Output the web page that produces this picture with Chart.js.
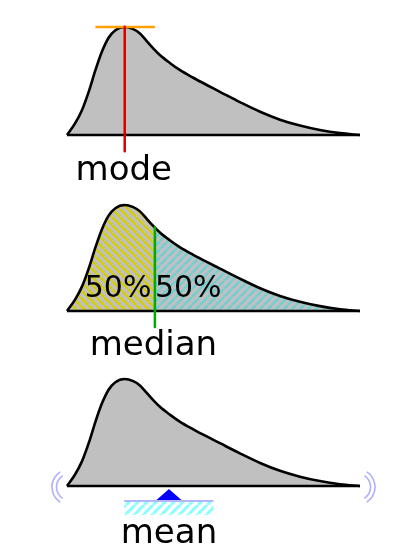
<!DOCTYPE html>
<html>
<head>
<meta charset="utf-8">
<script src="https://cdn.jsdelivr.net/npm/chart.js@4.4.1/dist/chart.umd.min.js"></script>
<style>
  body { margin: 0; background: #fff; }
  .panel { position: absolute; left: 0; width: 400px; }
</style>
</head>
<body>
<div class="panel" style="top:0;height:185px"><canvas id="modeChart"></canvas></div>
<div class="panel" style="top:185px;height:185px"><canvas id="medianChart"></canvas></div>
<div class="panel" style="top:370px;height:187px"><canvas id="meanChart"></canvas></div>
<script>
// skewed density curve (peak = 1)
const xs = [0, 0.28, 0.51, 0.74, 0.97, 1.19, 1.42, 1.65, 1.97, 2.26, 2.49, 2.72, 2.95, 3.17, 3.52, 3.86, 4.31, 4.77, 5.22, 5.9, 6.59, 7.27, 7.95, 8.63, 9.32, 10];
const density = [0, 0.11, 0.23, 0.40, 0.60, 0.77, 0.90, 0.97, 1.0, 0.98, 0.94, 0.87, 0.80, 0.74, 0.665, 0.60, 0.53, 0.463, 0.40, 0.305, 0.215, 0.142, 0.087, 0.046, 0.017, 0];

const modeX = 1.97;
const medianX = 3.0;
const medianDensity = 0.79;
const meanX = 3.48;

const names = ['mode', 'median', 'mean'];
const shares = ['50%', '50%'];

const FONT = '"DejaVu Sans", "Liberation Sans", sans-serif';

const points = xs.map((x, i) => ({ x: x, y: density[i] }));
const leftPart = points.filter(p => p.x < medianX).concat([{ x: medianX, y: medianDensity }]);
const rightPart = [{ x: medianX, y: medianDensity }].concat(points.filter(p => p.x > medianX));
const baseline = [{ x: xs[0], y: 0 }, { x: xs[xs.length - 1], y: 0 }];

function hatch(ctx, bg, fg, dir, size, width) {
    const c = document.createElement('canvas');
    c.width = size;
    c.height = size;
    const g = c.getContext('2d');
    if (bg) {
        g.fillStyle = bg;
        g.fillRect(0, 0, size, size);
    }
    g.strokeStyle = fg;
    g.lineWidth = width;
    g.beginPath();
    for (let k = -1; k <= 1; k++) {
        if (dir === '\\') {
            g.moveTo(k * size, 0);
            g.lineTo(k * size + size, size);
        } else {
            g.moveTo(k * size, size);
            g.lineTo(k * size + size, 0);
        }
    }
    g.stroke();
    return ctx.createPattern(c, 'repeat');
}

function baseOptions(pad) {
    return {
        responsive: true,
        maintainAspectRatio: false,
        animation: false,
        events: [],
        layout: { padding: pad },
        plugins: { legend: { display: false }, tooltip: { enabled: false } },
        scales: {
            x: { type: 'linear', display: false, min: 0, max: 10 },
            y: { display: false, min: 0, max: 1 }
        },
        elements: {
            point: { radius: 0 },
            line: { cubicInterpolationMode: 'monotone', borderJoinStyle: 'round', borderCapStyle: 'butt' }
        }
    };
}

function straight(data, color, width) {
    return { data: data, borderColor: color, borderWidth: width, fill: false, tension: 0,
             cubicInterpolationMode: 'default', clip: false };
}

function label(text, align, dx, dy, size) {
    return {
        id: 'label_' + text + dx.offset,
        afterDraw(chart) {
            const ctx = chart.ctx;
            const x = chart.scales.x;
            ctx.save();
            ctx.font = size + 'px ' + FONT;
            ctx.fillStyle = '#000';
            ctx.textAlign = align;
            ctx.textBaseline = 'alphabetic';
            ctx.fillText(text, x.getPixelForValue(dx.value) + dx.offset, chart.chartArea.bottom + dy);
            ctx.restore();
        }
    };
}

// ---- mode ----
new Chart(document.getElementById('modeChart'), {
    type: 'line',
    data: {
        datasets: [
            straight([{ x: modeX, y: 1 }, { x: modeX, y: -0.15 }], '#d40000', 2.5),
            straight([{ x: modeX - 1, y: 1 }, { x: modeX + 1.03, y: 1 }], '#ff9f00', 2.5),
            straight(baseline, '#000', 2.6),
            { data: points, borderColor: '#000', borderWidth: 2.6, fill: 'origin', backgroundColor: '#c0c0c0', clip: false }
        ]
    },
    options: baseOptions({ left: 67, right: 40, top: 27, bottom: 50 }),
    plugins: [label(names[0], 'center', { value: modeX, offset: -1 }, 45, 34)]
});

// ---- median ----
const medCtx = document.getElementById('medianChart').getContext('2d');
new Chart(medCtx, {
    type: 'line',
    data: {
        datasets: [
            straight([{ x: medianX, y: medianDensity }, { x: medianX, y: -0.15 }], '#00aa00', 2.5),
            { data: points, borderColor: '#000', borderWidth: 2.6, fill: false, clip: false },
            straight(baseline, '#000', 2.6),
            { data: leftPart, borderWidth: 0, borderColor: 'rgba(0,0,0,0)', fill: 'origin',
              backgroundColor: hatch(medCtx, '#c0c0c0', '#d6ce00', '\\', 8, 2.3) },
            { data: rightPart, borderWidth: 0, borderColor: 'rgba(0,0,0,0)', fill: 'origin',
              backgroundColor: hatch(medCtx, '#c0c0c0', '#6ed0d4', '/', 8, 2.3) }
        ]
    },
    options: baseOptions({ left: 67, right: 40, top: 20, bottom: 59 }),
    plugins: [
        label(shares[0], 'right', { value: medianX, offset: -3.5 }, -14, 30),
        label(shares[1], 'left', { value: medianX, offset: 0 }, -14, 30),
        label(names[1], 'center', { value: medianX, offset: -1.5 }, 44, 34)
    ]
});

// ---- mean ----
const meanCtx = document.getElementById('meanChart').getContext('2d');
const groundHatch = hatch(meanCtx, '#ffffff', '#88ffff', '/', 9, 3);
const balance = {
    id: 'balance',
    afterDatasetsDraw(chart) {
        const ctx = chart.ctx;
        const x = chart.scales.x;
        const y0 = chart.chartArea.bottom;
        const cx = x.getPixelForValue(meanX);
        const gl = x.getPixelForValue(meanX - 1.53);
        const gr = x.getPixelForValue(meanX + 1.52);
        ctx.save();
        // support hatch
        ctx.fillStyle = groundHatch;
        ctx.fillRect(gl, y0 + 16, gr - gl, 13);
        // support line
        ctx.strokeStyle = '#b4b4ff';
        ctx.lineWidth = 2;
        ctx.beginPath();
        ctx.moveTo(gl, y0 + 15);
        ctx.lineTo(gr, y0 + 15);
        ctx.stroke();
        // fulcrum
        ctx.fillStyle = '#0000ff';
        ctx.beginPath();
        ctx.moveTo(cx, y0 + 3);
        ctx.lineTo(cx + 12.5, y0 + 14);
        ctx.lineTo(cx - 12.5, y0 + 14);
        ctx.closePath();
        ctx.fill();
        // wobble marks at both ends
        ctx.strokeStyle = '#b0b0ff';
        ctx.lineWidth = 1.6;
        const ends = [[x.getPixelForValue(xs[0]) + 3, Math.PI], [x.getPixelForValue(xs[xs.length - 1]) - 3, 0]];
        ends.forEach(([ex, ang]) => {
            [18, 13.5].forEach(r => {
                ctx.beginPath();
                ctx.arc(ex, y0 + 1, r, ang - 1.0, ang + 1.0);
                ctx.stroke();
            });
        });
        ctx.restore();
    }
};
new Chart(meanCtx, {
    type: 'line',
    data: {
        datasets: [
            straight(baseline, '#000', 2.6),
            { data: points, borderColor: '#000', borderWidth: 2.6, fill: 'origin', backgroundColor: '#c0c0c0', clip: false }
        ]
    },
    options: baseOptions({ left: 67, right: 40, top: 9, bottom: 71 }),
    plugins: [balance, label(names[2], 'center', { value: meanX, offset: 0 }, 57, 34)]
});
</script>
</body>
</html>
